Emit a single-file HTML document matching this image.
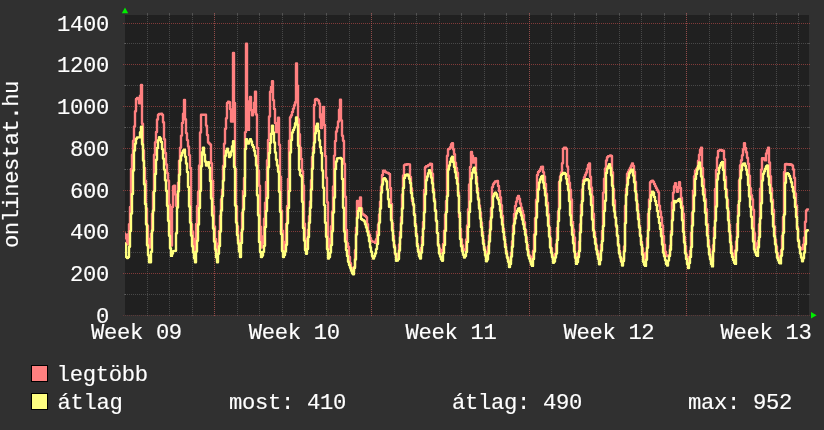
<!DOCTYPE html>
<html><head><meta charset="utf-8"><title>onlinestat.hu</title>
<style>html,body{margin:0;padding:0;background:#303030;overflow:hidden}body{width:824px;height:430px;font-family:"Liberation Mono", monospace}</style>
</head><body>
<svg width="824" height="430" viewBox="0 0 824 430" style="display:block;will-change:transform">
<rect width="824" height="430" fill="#303030"/>
<rect x="125" y="15" width="684" height="300" fill="#202020"/>
<g shape-rendering="crispEdges" fill="none" stroke-width="1">
<line x1="125" x2="809" y1="294.5" y2="294.5" stroke="#8c8c8c" stroke-opacity="0.38" stroke-dasharray="1 1"/>
<line x1="124" x2="126" y1="294.5" y2="294.5" stroke="#8c8c8c" stroke-opacity="0.38"/>
<line x1="808" x2="810" y1="294.5" y2="294.5" stroke="#8c8c8c" stroke-opacity="0.38"/>
<line x1="125" x2="809" y1="252.5" y2="252.5" stroke="#8c8c8c" stroke-opacity="0.38" stroke-dasharray="1 1"/>
<line x1="124" x2="126" y1="252.5" y2="252.5" stroke="#8c8c8c" stroke-opacity="0.38"/>
<line x1="808" x2="810" y1="252.5" y2="252.5" stroke="#8c8c8c" stroke-opacity="0.38"/>
<line x1="125" x2="809" y1="211.5" y2="211.5" stroke="#8c8c8c" stroke-opacity="0.38" stroke-dasharray="1 1"/>
<line x1="124" x2="126" y1="211.5" y2="211.5" stroke="#8c8c8c" stroke-opacity="0.38"/>
<line x1="808" x2="810" y1="211.5" y2="211.5" stroke="#8c8c8c" stroke-opacity="0.38"/>
<line x1="125" x2="809" y1="169.5" y2="169.5" stroke="#8c8c8c" stroke-opacity="0.38" stroke-dasharray="1 1"/>
<line x1="124" x2="126" y1="169.5" y2="169.5" stroke="#8c8c8c" stroke-opacity="0.38"/>
<line x1="808" x2="810" y1="169.5" y2="169.5" stroke="#8c8c8c" stroke-opacity="0.38"/>
<line x1="125" x2="809" y1="127.5" y2="127.5" stroke="#8c8c8c" stroke-opacity="0.38" stroke-dasharray="1 1"/>
<line x1="124" x2="126" y1="127.5" y2="127.5" stroke="#8c8c8c" stroke-opacity="0.38"/>
<line x1="808" x2="810" y1="127.5" y2="127.5" stroke="#8c8c8c" stroke-opacity="0.38"/>
<line x1="125" x2="809" y1="85.5" y2="85.5" stroke="#8c8c8c" stroke-opacity="0.38" stroke-dasharray="1 1"/>
<line x1="124" x2="126" y1="85.5" y2="85.5" stroke="#8c8c8c" stroke-opacity="0.38"/>
<line x1="808" x2="810" y1="85.5" y2="85.5" stroke="#8c8c8c" stroke-opacity="0.38"/>
<line x1="125" x2="809" y1="43.5" y2="43.5" stroke="#8c8c8c" stroke-opacity="0.38" stroke-dasharray="1 1"/>
<line x1="124" x2="126" y1="43.5" y2="43.5" stroke="#8c8c8c" stroke-opacity="0.38"/>
<line x1="808" x2="810" y1="43.5" y2="43.5" stroke="#8c8c8c" stroke-opacity="0.38"/>
<line x1="147.5" x2="147.5" y1="15" y2="315" stroke="#8c8c8c" stroke-opacity="0.38" stroke-dasharray="1 1"/>
<line x1="147.5" x2="147.5" y1="13" y2="15" stroke="#8c8c8c" stroke-opacity="0.38"/>
<line x1="147.5" x2="147.5" y1="315" y2="316" stroke="#8c8c8c" stroke-opacity="0.38"/>
<line x1="169.5" x2="169.5" y1="15" y2="315" stroke="#8c8c8c" stroke-opacity="0.38" stroke-dasharray="1 1"/>
<line x1="169.5" x2="169.5" y1="13" y2="15" stroke="#8c8c8c" stroke-opacity="0.38"/>
<line x1="169.5" x2="169.5" y1="315" y2="316" stroke="#8c8c8c" stroke-opacity="0.38"/>
<line x1="192.5" x2="192.5" y1="15" y2="315" stroke="#8c8c8c" stroke-opacity="0.38" stroke-dasharray="1 1"/>
<line x1="192.5" x2="192.5" y1="13" y2="15" stroke="#8c8c8c" stroke-opacity="0.38"/>
<line x1="192.5" x2="192.5" y1="315" y2="316" stroke="#8c8c8c" stroke-opacity="0.38"/>
<line x1="214.5" x2="214.5" y1="15" y2="315" stroke="#8c8c8c" stroke-opacity="0.38" stroke-dasharray="1 1"/>
<line x1="214.5" x2="214.5" y1="13" y2="15" stroke="#8c8c8c" stroke-opacity="0.38"/>
<line x1="214.5" x2="214.5" y1="315" y2="316" stroke="#8c8c8c" stroke-opacity="0.38"/>
<line x1="237.5" x2="237.5" y1="15" y2="315" stroke="#8c8c8c" stroke-opacity="0.38" stroke-dasharray="1 1"/>
<line x1="237.5" x2="237.5" y1="13" y2="15" stroke="#8c8c8c" stroke-opacity="0.38"/>
<line x1="237.5" x2="237.5" y1="315" y2="316" stroke="#8c8c8c" stroke-opacity="0.38"/>
<line x1="259.5" x2="259.5" y1="15" y2="315" stroke="#8c8c8c" stroke-opacity="0.38" stroke-dasharray="1 1"/>
<line x1="259.5" x2="259.5" y1="13" y2="15" stroke="#8c8c8c" stroke-opacity="0.38"/>
<line x1="259.5" x2="259.5" y1="315" y2="316" stroke="#8c8c8c" stroke-opacity="0.38"/>
<line x1="282.5" x2="282.5" y1="15" y2="315" stroke="#8c8c8c" stroke-opacity="0.38" stroke-dasharray="1 1"/>
<line x1="282.5" x2="282.5" y1="13" y2="15" stroke="#8c8c8c" stroke-opacity="0.38"/>
<line x1="282.5" x2="282.5" y1="315" y2="316" stroke="#8c8c8c" stroke-opacity="0.38"/>
<line x1="304.5" x2="304.5" y1="15" y2="315" stroke="#8c8c8c" stroke-opacity="0.38" stroke-dasharray="1 1"/>
<line x1="304.5" x2="304.5" y1="13" y2="15" stroke="#8c8c8c" stroke-opacity="0.38"/>
<line x1="304.5" x2="304.5" y1="315" y2="316" stroke="#8c8c8c" stroke-opacity="0.38"/>
<line x1="326.5" x2="326.5" y1="15" y2="315" stroke="#8c8c8c" stroke-opacity="0.38" stroke-dasharray="1 1"/>
<line x1="326.5" x2="326.5" y1="13" y2="15" stroke="#8c8c8c" stroke-opacity="0.38"/>
<line x1="326.5" x2="326.5" y1="315" y2="316" stroke="#8c8c8c" stroke-opacity="0.38"/>
<line x1="349.5" x2="349.5" y1="15" y2="315" stroke="#8c8c8c" stroke-opacity="0.38" stroke-dasharray="1 1"/>
<line x1="349.5" x2="349.5" y1="13" y2="15" stroke="#8c8c8c" stroke-opacity="0.38"/>
<line x1="349.5" x2="349.5" y1="315" y2="316" stroke="#8c8c8c" stroke-opacity="0.38"/>
<line x1="371.5" x2="371.5" y1="15" y2="315" stroke="#8c8c8c" stroke-opacity="0.38" stroke-dasharray="1 1"/>
<line x1="371.5" x2="371.5" y1="13" y2="15" stroke="#8c8c8c" stroke-opacity="0.38"/>
<line x1="371.5" x2="371.5" y1="315" y2="316" stroke="#8c8c8c" stroke-opacity="0.38"/>
<line x1="394.5" x2="394.5" y1="15" y2="315" stroke="#8c8c8c" stroke-opacity="0.38" stroke-dasharray="1 1"/>
<line x1="394.5" x2="394.5" y1="13" y2="15" stroke="#8c8c8c" stroke-opacity="0.38"/>
<line x1="394.5" x2="394.5" y1="315" y2="316" stroke="#8c8c8c" stroke-opacity="0.38"/>
<line x1="416.5" x2="416.5" y1="15" y2="315" stroke="#8c8c8c" stroke-opacity="0.38" stroke-dasharray="1 1"/>
<line x1="416.5" x2="416.5" y1="13" y2="15" stroke="#8c8c8c" stroke-opacity="0.38"/>
<line x1="416.5" x2="416.5" y1="315" y2="316" stroke="#8c8c8c" stroke-opacity="0.38"/>
<line x1="439.5" x2="439.5" y1="15" y2="315" stroke="#8c8c8c" stroke-opacity="0.38" stroke-dasharray="1 1"/>
<line x1="439.5" x2="439.5" y1="13" y2="15" stroke="#8c8c8c" stroke-opacity="0.38"/>
<line x1="439.5" x2="439.5" y1="315" y2="316" stroke="#8c8c8c" stroke-opacity="0.38"/>
<line x1="461.5" x2="461.5" y1="15" y2="315" stroke="#8c8c8c" stroke-opacity="0.38" stroke-dasharray="1 1"/>
<line x1="461.5" x2="461.5" y1="13" y2="15" stroke="#8c8c8c" stroke-opacity="0.38"/>
<line x1="461.5" x2="461.5" y1="315" y2="316" stroke="#8c8c8c" stroke-opacity="0.38"/>
<line x1="484.5" x2="484.5" y1="15" y2="315" stroke="#8c8c8c" stroke-opacity="0.38" stroke-dasharray="1 1"/>
<line x1="484.5" x2="484.5" y1="13" y2="15" stroke="#8c8c8c" stroke-opacity="0.38"/>
<line x1="484.5" x2="484.5" y1="315" y2="316" stroke="#8c8c8c" stroke-opacity="0.38"/>
<line x1="506.5" x2="506.5" y1="15" y2="315" stroke="#8c8c8c" stroke-opacity="0.38" stroke-dasharray="1 1"/>
<line x1="506.5" x2="506.5" y1="13" y2="15" stroke="#8c8c8c" stroke-opacity="0.38"/>
<line x1="506.5" x2="506.5" y1="315" y2="316" stroke="#8c8c8c" stroke-opacity="0.38"/>
<line x1="529.5" x2="529.5" y1="15" y2="315" stroke="#8c8c8c" stroke-opacity="0.38" stroke-dasharray="1 1"/>
<line x1="529.5" x2="529.5" y1="13" y2="15" stroke="#8c8c8c" stroke-opacity="0.38"/>
<line x1="529.5" x2="529.5" y1="315" y2="316" stroke="#8c8c8c" stroke-opacity="0.38"/>
<line x1="551.5" x2="551.5" y1="15" y2="315" stroke="#8c8c8c" stroke-opacity="0.38" stroke-dasharray="1 1"/>
<line x1="551.5" x2="551.5" y1="13" y2="15" stroke="#8c8c8c" stroke-opacity="0.38"/>
<line x1="551.5" x2="551.5" y1="315" y2="316" stroke="#8c8c8c" stroke-opacity="0.38"/>
<line x1="574.5" x2="574.5" y1="15" y2="315" stroke="#8c8c8c" stroke-opacity="0.38" stroke-dasharray="1 1"/>
<line x1="574.5" x2="574.5" y1="13" y2="15" stroke="#8c8c8c" stroke-opacity="0.38"/>
<line x1="574.5" x2="574.5" y1="315" y2="316" stroke="#8c8c8c" stroke-opacity="0.38"/>
<line x1="596.5" x2="596.5" y1="15" y2="315" stroke="#8c8c8c" stroke-opacity="0.38" stroke-dasharray="1 1"/>
<line x1="596.5" x2="596.5" y1="13" y2="15" stroke="#8c8c8c" stroke-opacity="0.38"/>
<line x1="596.5" x2="596.5" y1="315" y2="316" stroke="#8c8c8c" stroke-opacity="0.38"/>
<line x1="619.5" x2="619.5" y1="15" y2="315" stroke="#8c8c8c" stroke-opacity="0.38" stroke-dasharray="1 1"/>
<line x1="619.5" x2="619.5" y1="13" y2="15" stroke="#8c8c8c" stroke-opacity="0.38"/>
<line x1="619.5" x2="619.5" y1="315" y2="316" stroke="#8c8c8c" stroke-opacity="0.38"/>
<line x1="641.5" x2="641.5" y1="15" y2="315" stroke="#8c8c8c" stroke-opacity="0.38" stroke-dasharray="1 1"/>
<line x1="641.5" x2="641.5" y1="13" y2="15" stroke="#8c8c8c" stroke-opacity="0.38"/>
<line x1="641.5" x2="641.5" y1="315" y2="316" stroke="#8c8c8c" stroke-opacity="0.38"/>
<line x1="664.5" x2="664.5" y1="15" y2="315" stroke="#8c8c8c" stroke-opacity="0.38" stroke-dasharray="1 1"/>
<line x1="664.5" x2="664.5" y1="13" y2="15" stroke="#8c8c8c" stroke-opacity="0.38"/>
<line x1="664.5" x2="664.5" y1="315" y2="316" stroke="#8c8c8c" stroke-opacity="0.38"/>
<line x1="686.5" x2="686.5" y1="15" y2="315" stroke="#8c8c8c" stroke-opacity="0.38" stroke-dasharray="1 1"/>
<line x1="686.5" x2="686.5" y1="13" y2="15" stroke="#8c8c8c" stroke-opacity="0.38"/>
<line x1="686.5" x2="686.5" y1="315" y2="316" stroke="#8c8c8c" stroke-opacity="0.38"/>
<line x1="709.5" x2="709.5" y1="15" y2="315" stroke="#8c8c8c" stroke-opacity="0.38" stroke-dasharray="1 1"/>
<line x1="709.5" x2="709.5" y1="13" y2="15" stroke="#8c8c8c" stroke-opacity="0.38"/>
<line x1="709.5" x2="709.5" y1="315" y2="316" stroke="#8c8c8c" stroke-opacity="0.38"/>
<line x1="731.5" x2="731.5" y1="15" y2="315" stroke="#8c8c8c" stroke-opacity="0.38" stroke-dasharray="1 1"/>
<line x1="731.5" x2="731.5" y1="13" y2="15" stroke="#8c8c8c" stroke-opacity="0.38"/>
<line x1="731.5" x2="731.5" y1="315" y2="316" stroke="#8c8c8c" stroke-opacity="0.38"/>
<line x1="753.5" x2="753.5" y1="15" y2="315" stroke="#8c8c8c" stroke-opacity="0.38" stroke-dasharray="1 1"/>
<line x1="753.5" x2="753.5" y1="13" y2="15" stroke="#8c8c8c" stroke-opacity="0.38"/>
<line x1="753.5" x2="753.5" y1="315" y2="316" stroke="#8c8c8c" stroke-opacity="0.38"/>
<line x1="776.5" x2="776.5" y1="15" y2="315" stroke="#8c8c8c" stroke-opacity="0.38" stroke-dasharray="1 1"/>
<line x1="776.5" x2="776.5" y1="13" y2="15" stroke="#8c8c8c" stroke-opacity="0.38"/>
<line x1="776.5" x2="776.5" y1="315" y2="316" stroke="#8c8c8c" stroke-opacity="0.38"/>
<line x1="798.5" x2="798.5" y1="15" y2="315" stroke="#8c8c8c" stroke-opacity="0.38" stroke-dasharray="1 1"/>
<line x1="798.5" x2="798.5" y1="13" y2="15" stroke="#8c8c8c" stroke-opacity="0.38"/>
<line x1="798.5" x2="798.5" y1="315" y2="316" stroke="#8c8c8c" stroke-opacity="0.38"/>
<line x1="123" x2="811" y1="315.5" y2="315.5" stroke="#c8504c" stroke-opacity="0.28" stroke-dasharray="1 1"/>
<line x1="123" x2="811" y1="273.5" y2="273.5" stroke="#c8504c" stroke-opacity="0.58" stroke-dasharray="1 1"/>
<line x1="123" x2="811" y1="231.5" y2="231.5" stroke="#c8504c" stroke-opacity="0.58" stroke-dasharray="1 1"/>
<line x1="123" x2="811" y1="190.5" y2="190.5" stroke="#c8504c" stroke-opacity="0.58" stroke-dasharray="1 1"/>
<line x1="123" x2="811" y1="148.5" y2="148.5" stroke="#c8504c" stroke-opacity="0.58" stroke-dasharray="1 1"/>
<line x1="123" x2="811" y1="106.5" y2="106.5" stroke="#c8504c" stroke-opacity="0.58" stroke-dasharray="1 1"/>
<line x1="123" x2="811" y1="64.5" y2="64.5" stroke="#c8504c" stroke-opacity="0.58" stroke-dasharray="1 1"/>
<line x1="123" x2="811" y1="23.5" y2="23.5" stroke="#c8504c" stroke-opacity="0.58" stroke-dasharray="1 1"/>
<line x1="214.5" x2="214.5" y1="13" y2="317" stroke="#c8504c" stroke-opacity="0.58" stroke-dasharray="1 1"/>
<line x1="371.5" x2="371.5" y1="13" y2="317" stroke="#c8504c" stroke-opacity="0.58" stroke-dasharray="1 1"/>
<line x1="529.5" x2="529.5" y1="13" y2="317" stroke="#c8504c" stroke-opacity="0.58" stroke-dasharray="1 1"/>
<line x1="686.5" x2="686.5" y1="13" y2="317" stroke="#c8504c" stroke-opacity="0.58" stroke-dasharray="1 1"/>
</g>
<clipPath id="c"><rect x="125" y="15" width="684" height="300"/></clipPath>
<g clip-path="url(#c)" fill="none" stroke-width="2.4" stroke-linejoin="round" stroke-linecap="round">
<path d="M123,233.5H124V233.5H125V234.5H126V238.5H127V244.4H128V234.2H129V224.1H130V207.0H131V168.9H132V154.7H133V140.7H134V126.4H135V111.3H136V99.0H137V98.0H138V99.0H139V103.3H140V95.6H141V85.0H142V123.7H143V150.3H144V168.0H145V180.8H146V208.5H147V225.7H148V238.7H149V247.6H150V245.5H151V233.6H152V213.6H153V192.1H154V154.7H155V142.2H156V132.0H157V119.4H158V114.7H159V114.0H160V113.9H161V113.8H162V114.7H163V122.3H164V139.2H165V153.0H166V164.4H167V173.1H168V180.6H169V204.7H170V233.5H171V245.5H172V206.9H173V186.3H174V185.6H175V194.4H176V205.7H177V196.6H178V182.6H179V160.8H180V147.6H181V135.6H182V122.9H183V113.8H184V100.0H185V119.2H186V133.1H187V140.1H188V146.4H189V155.1H190V168.0H191V224.1H192V231.4H193V238.8H194V245.7H195V251.8H196V224.0H197V205.9H198V192.0H199V165.4H200V132.4H201V114.7H202V114.8H203V114.8H204V114.7H205V114.7H206V125.6H207V135.0H208V142.5H209V143.5H210V144.5H211V163.1H212V180.6H213V206.4H214V226.4H215V238.9H216V251.8H217V248.5H218V243.5H219V231.0H220V215.8H221V199.2H222V189.6H223V165.7H224V143.6H225V128.8H226V118.2H227V102.9H228V101.8H229V102.1H230V109.1H231V121.6H232V121.6H233V53.0H234V102.9H235V168.9H236V206.2H237V226.2H238V240.4H239V249.7H240V241.9H241V232.8H242V212.8H243V191.2H244V178.0H245V132.1H246V43.6H247V101.1H248V129.9H249V110.1H250V96.9H251V110.0H252V115.3H253V112.0H254V102.6H255V91.7H256V114.5H257V147.9H258V170.8H259V185.8H260V226.8H261V247.6H262V243.6H263V236.1H264V218.8H265V202.6H266V182.0H267V160.3H268V140.0H269V116.4H270V91.8H271V86.9H272V81.2H273V100.1H274V108.9H275V122.9H276V132.0H277V126.4H278V117.8H279V144.7H280V176.8H281V210.6H282V230.8H283V243.4H284V249.7H285V241.6H286V224.0H287V205.9H288V179.0H289V140.6H290V117.3H291V115.3H292V111.9H293V108.6H294V105.3H295V102.2H296V63.5H297V85.6H298V119.2H299V134.2H300V147.8H301V159.0H302V171.1H303V185.4H304V223.7H305V238.7H306V247.1H307V241.4H308V229.8H309V216.1H310V201.4H311V180.1H312V156.9H313V147.3H314V104.9H315V99.4H316V99.0H317V99.7H318V100.5H319V103.5H320V117.4H321V128.0H322V114.1H323V107.0H324V125.0H325V156.0H326V177.8H327V202.2H328V249.2H329V246.2H330V238.8H331V226.3H332V211.5H333V186.5H334V155.6H335V141.0H336V131.5H337V127.5H338V121.5H339V109.7H340V99.7H341V120.4H342V135.8H343V140.8H344V163.7H345V196.7H346V229.9H347V243.3H348V247.0H349V257.0H350V263.2H351V267.8H352V272.2H353V270.8H354V267.0H355V250.3H356V227.6H357V201.0H358V208.0H359V202.3H360V197.5H361V208.3H362V213.8H363V214.5H364V215.3H365V216.0H366V217.1H367V224.1H368V231.1H369V234.6H370V237.9H371V240.8H372V241.4H373V241.8H374V241.9H375V242.9H376V239.2H377V231.7H378V224.5H379V214.5H380V201.6H381V186.6H382V174.9H383V170.7H384V170.8H385V171.7H386V172.5H387V172.8H388V173.2H389V174.0H390V188.0H391V203.9H392V223.3H393V235.8H394V245.3H395V254.3H396V257.6H397V257.6H398V253.7H399V244.5H400V232.0H401V217.2H402V194.4H403V175.4H404V165.1H405V164.4H406V164.8H407V164.1H408V164.1H409V164.4H410V176.9H411V188.3H412V201.0H413V205.2H414V214.0H415V224.0H416V234.0H417V244.0H418V250.0H419V255.5H420V253.0H421V248.0H422V236.9H423V221.9H424V190.0H425V167.2H426V166.2H427V166.2H428V165.2H429V164.8H430V163.8H431V164.0H432V173.8H433V189.1H434V199.1H435V209.9H436V221.2H437V232.9H438V244.5H439V248.4H440V251.0H441V253.4H442V250.0H443V244.0H444V230.8H445V214.4H446V201.0H447V155.7H448V149.2H449V148.7H450V147.3H451V144.3H452V143.1H453V149.3H454V154.1H455V162.7H456V168.0H457V172.8H458V192.4H459V216.9H460V228.9H461V239.3H462V245.3H463V249.2H464V250.2H465V249.2H466V239.4H467V225.5H468V209.2H469V184.5H470V167.0H471V151.9H472V155.8H473V162.5H474V160.4H475V158.2H476V177.0H477V188.1H478V198.1H479V205.4H480V212.4H481V222.4H482V232.1H483V240.1H484V247.2H485V251.8H486V257.6H487V254.3H488V246.3H489V235.5H490V221.2H491V208.3H492V187.1H493V184.1H494V182.6H495V181.5H496V181.2H497V180.9H498V185.9H499V191.0H500V197.3H501V205.3H502V215.7H503V228.8H504V237.0H505V244.1H506V251.2H507V257.2H508V260.3H509V263.9H510V260.7H511V252.7H512V241.3H513V225.6H514V214.0H515V205.9H516V201.6H517V197.7H518V195.9H519V198.7H520V203.5H521V207.5H522V210.8H523V214.7H524V222.2H525V229.6H526V237.3H527V245.0H528V251.5H529V255.5H530V259.5H531V261.8H532V256.8H533V250.8H534V234.5H535V218.1H536V199.7H537V175.0H538V172.0H539V171.0H540V169.1H541V167.0H542V166.6H543V172.1H544V176.4H545V184.0H546V193.8H547V202.6H548V214.1H549V227.5H550V238.5H551V248.2H552V255.2H553V259.7H554V256.9H555V253.8H556V244.2H557V227.9H558V211.3H559V181.9H560V176.4H561V172.4H562V163.3H563V148.8H564V147.8H565V147.8H566V148.8H567V166.5H568V175.8H569V182.7H570V189.7H571V199.5H572V221.9H573V229.4H574V237.4H575V253.9H576V261.8H577V259.3H578V253.3H579V241.7H580V224.2H581V204.6H582V189.5H583V180.2H584V177.1H585V174.8H586V172.4H587V168.6H588V164.9H589V163.4H590V176.8H591V187.4H592V196.4H593V213.8H594V232.1H595V238.8H596V245.5H597V251.2H598V257.0H599V261.8H600V253.7H601V244.6H602V230.9H603V192.6H604V178.6H605V168.5H606V160.4H607V157.2H608V156.2H609V156.1H610V155.5H611V156.0H612V172.2H613V189.0H614V200.3H615V217.5H616V226.8H617V236.0H618V244.3H619V250.9H620V257.6H621V261.8H622V261.5H623V259.0H624V246.5H625V205.7H626V188.7H627V173.7H628V171.7H629V169.8H630V167.7H631V165.4H632V163.4H633V165.9H634V171.6H635V181.7H636V194.2H637V204.2H638V214.2H639V225.7H640V234.9H641V241.9H642V248.1H643V253.1H644V257.3H645V259.7H646V252.4H647V238.3H648V213.6H649V199.4H650V182.3H651V181.1H652V180.8H653V181.8H654V183.9H655V186.1H656V188.1H657V190.1H658V192.1H659V205.6H660V211.4H661V217.2H662V225.5H663V236.0H664V244.8H665V251.6H666V255.1H667V256.1H668V256.1H669V255.1H670V245.8H671V231.1H672V202.5H673V192.6H674V186.3H675V183.3H676V187.0H677V191.8H678V187.7H679V182.3H680V188.0H681V197.7H682V206.1H683V213.6H684V236.9H685V245.9H686V254.6H687V258.6H688V261.8H689V257.0H690V251.0H691V232.8H692V212.8H693V190.6H694V176.3H695V170.8H696V169.2H697V167.7H698V160.7H699V154.7H700V149.7H701V147.7H702V167.9H703V179.2H704V189.2H705V199.2H706V209.2H707V224.3H708V240.3H709V249.3H710V257.2H711V260.5H712V261.8H713V245.1H714V227.4H715V189.0H716V169.9H717V157.4H718V150.9H719V150.4H720V149.9H721V150.2H722V150.9H723V150.8H724V159.1H725V176.8H726V189.6H727V199.6H728V211.5H729V224.6H730V235.5H731V246.3H732V253.7H733V256.7H734V257.6H735V250.4H736V241.4H737V223.9H738V204.9H739V180.3H740V165.2H741V160.2H742V155.2H743V149.2H744V143.1H745V147.9H746V152.2H747V157.8H748V163.8H749V175.6H750V188.2H751V195.2H752V199.2H753V209.6H754V233.1H755V243.2H756V247.9H757V249.2H758V240.9H759V224.2H760V188.6H761V169.6H762V158.2H763V158.2H764V159.4H765V160.4H766V153.4H767V150.2H768V147.7H769V162.5H770V176.3H771V188.3H772V199.8H773V209.8H774V226.4H775V239.5H776V246.4H777V253.3H778V256.9H779V259.7H780V256.2H781V250.2H782V235.8H783V217.0H784V171.9H785V164.2H786V163.9H787V164.5H788V164.1H789V164.7H790V164.1H791V164.8H792V165.5H793V169.4H794V177.7H795V193.4H796V205.5H797V227.3H798V239.8H799V246.7H800V248.0H801V249.4H802V249.2H803V244.7H804V237.5H805V221.7H806V210.4H807V209.4H808" stroke="#ff8080"/>
<path d="M123,243.3H124V243.3H125V244.3H126V257.0H127V258.0H128V257.0H129V246.8H130V231.1H131V213.6H132V193.9H133V170.5H134V150.5H135V143.5H136V138.7H137V137.5H138V137.4H139V137.2H140V132.3H141V126.7H142V144.2H143V160.6H144V184.3H145V204.0H146V224.2H147V245.3H148V255.3H149V262.2H150V262.2H151V251.7H152V230.4H153V210.4H154V191.1H155V174.0H156V159.7H157V148.0H158V140.1H159V137.2H160V138.5H161V141.9H162V149.1H163V158.6H164V169.6H165V180.2H166V190.8H167V205.8H168V220.8H169V235.8H170V248.3H171V255.9H172V253.5H173V251.1H174V250.9H175V250.8H176V233.3H177V207.5H178V191.3H179V174.8H180V160.5H181V155.6H182V152.6H183V150.5H184V149.7H185V156.7H186V163.5H187V172.0H188V186.9H189V206.4H190V222.6H191V235.6H192V246.3H193V252.3H194V258.3H195V262.2H196V251.4H197V240.8H198V224.5H199V207.9H200V190.8H201V166.2H202V152.3H203V147.6H204V154.6H205V161.5H206V165.5H207V164.0H208V162.3H209V167.7H210V180.9H211V198.5H212V215.5H213V228.5H214V241.5H215V249.5H216V257.2H217V262.2H218V253.8H219V246.1H220V231.6H221V210.4H222V196.1H223V180.6H224V166.8H225V155.7H226V150.7H227V148.7H228V152.4H229V157.1H230V155.4H231V151.4H232V146.1H233V141.3H234V167.0H235V205.5H236V222.6H237V235.1H238V243.5H239V251.6H240V257.0H241V242.9H242V229.5H243V209.5H244V196.0H245V149.0H246V139.2H247V142.7H248V143.5H249V141.1H250V139.2H251V141.4H252V145.0H253V146.9H254V150.7H255V155.7H256V165.4H257V195.2H258V215.3H259V241.9H260V252.0H261V257.0H262V255.5H263V251.8H264V245.8H265V227.0H266V211.0H267V198.0H268V167.3H269V153.0H270V142.7H271V133.8H272V125.6H273V132.4H274V142.4H275V152.4H276V159.7H277V165.5H278V171.8H279V191.7H280V211.7H281V234.1H282V250.9H283V257.0H284V254.9H285V251.4H286V244.7H287V223.2H288V207.9H289V191.0H290V152.4H291V140.1H292V132.4H293V129.9H294V127.4H295V123.3H296V117.5H297V124.6H298V145.7H299V169.8H300V175.0H301V176.2H302V201.7H303V228.0H304V240.6H305V250.0H306V253.8H307V249.0H308V237.0H309V222.7H310V207.7H311V189.4H312V168.8H313V152.7H314V142.4H315V133.3H316V126.2H317V123.8H318V130.7H319V140.3H320V147.0H321V153.0H322V170.5H323V187.7H324V205.1H325V222.8H326V236.7H327V249.2H328V258.6H329V257.1H330V252.6H331V245.1H332V231.2H333V212.5H334V197.5H335V169.1H336V161.4H337V158.4H338V158.2H339V158.1H340V157.9H341V158.8H342V179.0H343V207.8H344V231.5H345V241.5H346V250.1H347V255.9H348V261.8H349V265.0H350V267.8H351V270.5H352V273.2H353V274.3H354V267.9H355V259.4H356V234.4H357V217.7H358V210.9H359V208.3H360V208.3H361V219.0H362V219.7H363V220.3H364V221.3H365V224.3H366V227.4H367V231.4H368V235.4H369V241.3H370V247.3H371V251.8H372V256.0H373V258.6H374V256.3H375V253.4H376V249.1H377V244.1H378V235.1H379V222.6H380V208.5H381V192.6H382V184.4H383V179.2H384V178.2H385V179.1H386V181.3H387V189.4H388V199.2H389V206.7H390V205.2H391V220.3H392V230.4H393V240.4H394V247.2H395V253.6H396V260.7H397V260.6H398V259.1H399V250.5H400V237.5H401V223.4H402V208.4H403V187.9H404V177.9H405V175.0H406V175.5H407V174.5H408V175.5H409V178.7H410V183.0H411V193.0H412V198.3H413V204.3H414V215.1H415V226.0H416V236.0H417V246.0H418V251.8H419V256.3H420V258.6H421V252.6H422V245.0H423V228.8H424V212.3H425V194.3H426V180.2H427V176.5H428V173.3H429V170.3H430V172.6H431V177.6H432V183.2H433V192.2H434V201.2H435V210.9H436V220.6H437V233.0H438V245.5H439V253.6H440V256.4H441V259.2H442V260.7H443V253.0H444V245.0H445V230.7H446V211.9H447V196.1H448V169.5H449V165.5H450V161.7H451V158.2H452V156.7H453V162.1H454V167.1H455V172.2H456V178.0H457V183.8H458V195.8H459V212.8H460V239.1H461V246.3H462V251.3H463V254.7H464V257.6H465V255.9H466V251.9H467V241.9H468V226.9H469V211.9H470V201.4H471V178.6H472V172.6H473V169.1H474V167.6H475V172.7H476V183.5H477V192.6H478V199.6H479V208.5H480V218.5H481V227.1H482V235.8H483V243.7H484V249.7H485V255.4H486V261.3H487V259.4H488V253.5H489V241.5H490V229.5H491V217.5H492V207.4H493V196.3H494V193.8H495V192.7H496V194.2H497V197.7H498V199.6H499V204.1H500V210.8H501V217.4H502V224.5H503V232.0H504V239.5H505V247.0H506V253.5H507V257.7H508V261.8H509V267.0H510V264.1H511V256.6H512V246.7H513V233.7H514V223.4H515V218.4H516V213.4H517V210.8H518V208.7H519V208.3H520V211.9H521V215.4H522V219.5H523V224.2H524V228.9H525V234.8H526V242.1H527V249.4H528V255.4H529V258.4H530V261.4H531V264.4H532V265.9H533V259.0H534V251.5H535V234.5H536V217.5H537V201.4H538V189.4H539V182.5H540V179.2H541V176.7H542V176.0H543V182.6H544V188.3H545V195.4H546V205.4H547V215.4H548V225.8H549V236.6H550V247.5H551V252.5H552V257.2H553V262.8H554V261.5H555V257.6H556V253.6H557V239.9H558V221.1H559V208.6H560V180.5H561V174.9H562V173.9H563V172.9H564V172.9H565V173.9H566V178.6H567V184.1H568V190.3H569V201.1H570V215.3H571V225.3H572V234.7H573V243.2H574V251.6H575V257.8H576V263.9H577V262.0H578V257.0H579V251.0H580V232.3H581V215.3H582V201.0H583V183.9H584V180.7H585V180.2H586V179.2H587V179.2H588V180.2H589V188.7H590V194.4H591V205.1H592V219.5H593V230.3H594V237.0H595V243.7H596V249.6H597V254.2H598V258.7H599V264.3H600V260.0H601V250.6H602V241.0H603V226.0H604V211.0H605V200.8H606V172.9H607V168.6H608V166.2H609V164.1H610V167.8H611V175.3H612V185.8H613V205.3H614V211.4H615V217.6H616V225.5H617V235.5H618V245.5H619V253.5H620V257.3H621V261.1H622V265.5H623V261.1H624V251.3H625V223.1H626V194.8H627V184.7H628V177.7H629V173.2H630V171.5H631V169.8H632V169.7H633V175.6H634V182.3H635V191.3H636V200.4H637V210.4H638V219.3H639V227.6H640V235.9H641V244.8H642V254.5H643V261.8H644V264.8H645V265.9H646V259.7H647V247.8H648V230.1H649V209.0H650V201.0H651V194.9H652V191.7H653V192.4H654V196.9H655V201.0H656V204.9H657V210.9H658V216.9H659V222.9H660V228.9H661V236.2H662V244.5H663V252.6H664V256.3H665V260.1H666V263.9H667V265.5H668V260.6H669V256.1H670V249.8H671V234.8H672V220.2H673V210.2H674V201.0H675V202.2H676V201.2H677V200.9H678V199.6H679V199.0H680V201.7H681V207.8H682V220.3H683V231.7H684V242.5H685V253.2H686V258.9H687V263.9H688V268.0H689V263.1H690V256.9H691V247.1H692V225.6H693V211.2H694V195.5H695V178.9H696V173.9H697V169.6H698V165.9H699V162.4H700V168.4H701V176.4H702V186.0H703V194.6H704V200.8H705V212.8H706V224.8H707V235.6H708V246.5H709V254.5H710V259.3H711V264.1H712V266.4H713V251.2H714V237.9H715V220.7H716V206.5H717V179.6H718V173.6H719V167.7H720V165.2H721V162.9H722V162.0H723V169.9H724V180.0H725V188.9H726V197.4H727V208.2H728V220.2H729V231.4H730V242.2H731V253.0H732V256.9H733V259.9H734V262.8H735V263.9H736V250.4H737V237.1H738V215.7H739V201.0H740V178.3H741V170.3H742V165.1H743V163.8H744V163.4H745V165.8H746V169.8H747V174.8H748V185.1H749V196.4H750V206.7H751V216.7H752V228.4H753V241.4H754V249.5H755V252.3H756V255.1H757V255.9H758V247.2H759V237.1H760V218.3H761V203.2H762V180.6H763V173.8H764V171.3H765V168.8H766V166.3H767V165.5H768V176.4H769V184.8H770V193.1H771V201.5H772V214.0H773V226.5H774V236.3H775V244.3H776V252.3H777V257.7H778V260.2H779V262.7H780V263.4H781V255.8H782V249.3H783V232.7H784V214.4H785V182.7H786V173.7H787V173.2H788V173.9H789V175.9H790V178.6H791V182.3H792V186.9H793V191.5H794V197.8H795V206.9H796V216.9H797V228.9H798V240.9H799V247.4H800V253.4H801V257.5H802V261.3H803V258.2H804V252.5H805V244.2H806V231.3H807V230.3H808" stroke="#ffff80"/>
</g>
<path d="M121.8,13.2 L128.2,13.2 L125,7.6 Z" fill="#00ee00"/>
<path d="M811,312 L811,318.6 L816.6,315.3 Z" fill="#00ee00"/>
<g font-family='"Liberation Mono", monospace' font-size="22.2" letter-spacing="-0.32" fill="#ffffff" stroke="#ffffff" stroke-width="0.15">
<text x="109" y="323" text-anchor="end">0</text>
<text x="109" y="281" text-anchor="end">200</text>
<text x="109" y="239" text-anchor="end">400</text>
<text x="109" y="198" text-anchor="end">600</text>
<text x="109" y="156" text-anchor="end">800</text>
<text x="109" y="114" text-anchor="end">1000</text>
<text x="109" y="72" text-anchor="end">1200</text>
<text x="109" y="31" text-anchor="end">1400</text>
<text x="136.4" y="339" text-anchor="middle">Week 09</text>
<text x="294.3" y="339" text-anchor="middle">Week 10</text>
<text x="451.1" y="339" text-anchor="middle">Week 11</text>
<text x="608.9" y="339" text-anchor="middle">Week 12</text>
<text x="766.1" y="339" text-anchor="middle">Week 13</text>
<text transform="translate(18,164.6) rotate(-90)" text-anchor="middle" letter-spacing="-0.48">onlinestat.hu</text>
<text x="56.8" y="381">legtöbb</text>
<text x="57.5" y="409">átlag</text>
<text x="229" y="409" xml:space="preserve">most: 410</text>
<text x="452" y="409" xml:space="preserve">átlag: 490</text>
<text x="688" y="409" xml:space="preserve">max: 952</text>
</g>
<g shape-rendering="crispEdges">
<rect x="31.5" y="365.5" width="16" height="16" fill="#ff8080" stroke="#000" stroke-width="1"/>
<rect x="31.5" y="393.5" width="16" height="16" fill="#ffff80" stroke="#000" stroke-width="1"/>
</g>
</svg>
</body></html>
